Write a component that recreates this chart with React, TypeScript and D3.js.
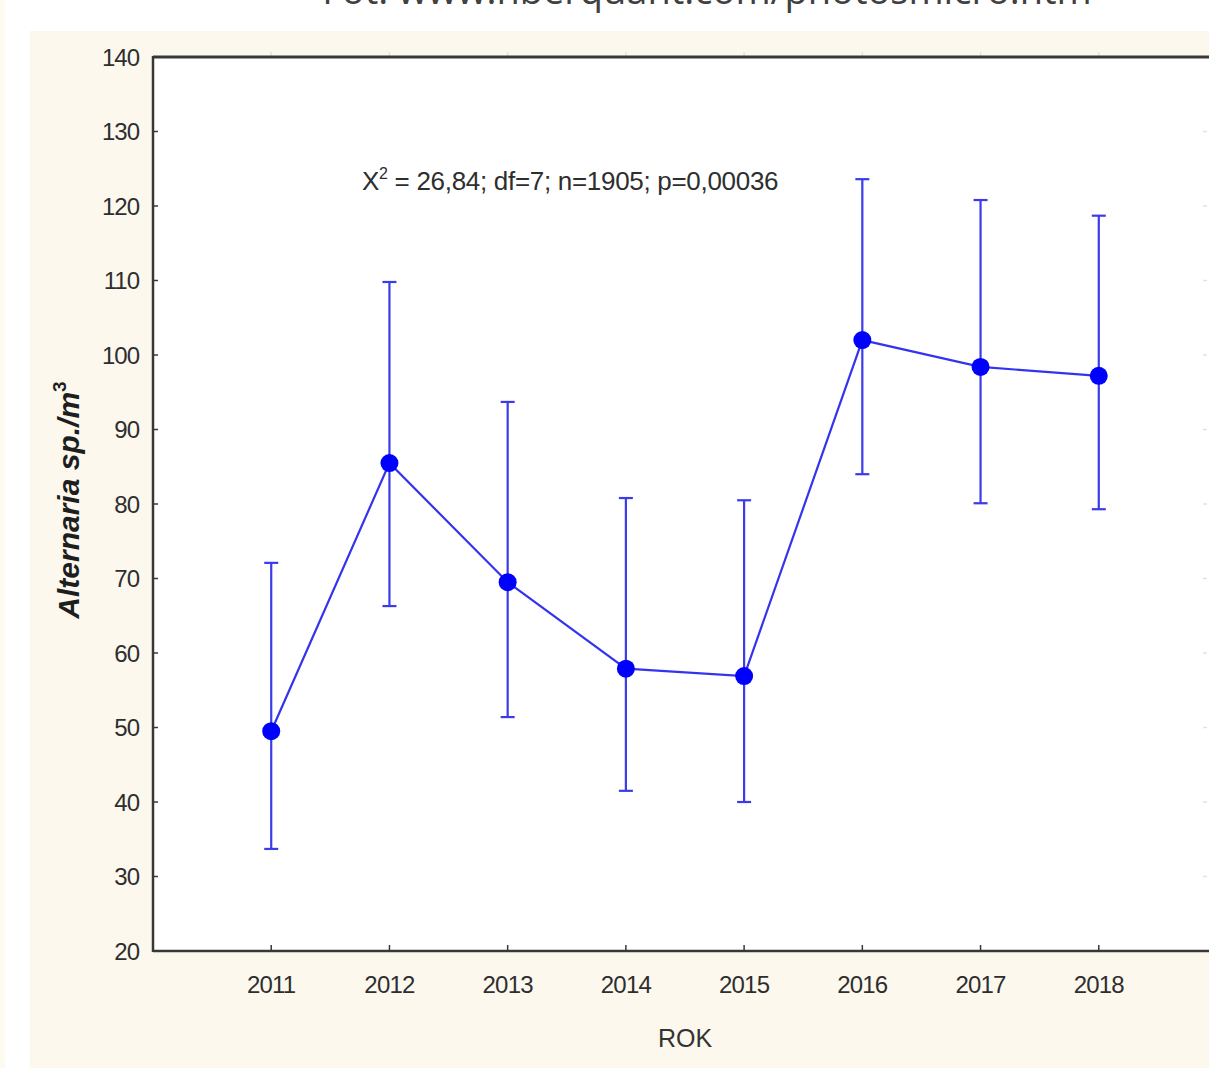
import { useEffect, useRef } from "react";
import * as d3 from "d3";

const years = [2011, 2012, 2013, 2014, 2015, 2016, 2017, 2018];
const means = [49.5, 85.5, 69.5, 57.9, 56.9, 102.0, 98.4, 97.2];
const upper = [72.1, 109.8, 93.7, 80.8, 80.5, 123.6, 120.8, 118.7];
const lower = [33.7, 66.3, 51.4, 41.5, 40.0, 84.0, 80.1, 79.3];
const yTicks = [20, 30, 40, 50, 60, 70, 80, 90, 100, 110, 120, 130, 140];

export default function App() {
  const ref = useRef<SVGSVGElement>(null);

  useEffect(() => {
    if (!ref.current) return;
    const W = 1209, H = 1070;
    const svg = d3.select(ref.current).attr("width", W).attr("height", H);
    svg.selectAll("*").remove();

    const font = "'Liberation Sans', Arial, sans-serif";
    const L = 153, T = 57, B = 951, R = 1217;

    // page + panel
    svg.append("rect").attr("width", W).attr("height", H).attr("fill", "#ffffff");
    svg.append("rect").attr("x", 0).attr("y", 0).attr("width", 5).attr("height", 1068).attr("fill", "#fdfaf0");
    svg.append("rect").attr("x", 30).attr("y", 31).attr("width", W - 30).attr("height", 1037).attr("fill", "#fcf8ee");

    // caption, cut at the top as in the source
    svg.append("text").attr("x", 707).attr("y", 4)
      .attr("text-anchor", "middle").attr("font-family", "'Open Sans', 'Noto Sans', sans-serif")
      .attr("font-size", 38).attr("fill", "#404040")
      .text("Fot: www.hberquant.com/photosmicro.htm");

    const x = d3.scaleLinear().domain([2010, 2019]).range([L, R]);
    const y = d3.scaleLinear().domain([20, 140]).range([B, T]);

    // plot area
    svg.append("rect").attr("x", L).attr("y", T).attr("width", R - L).attr("height", B - T).attr("fill", "#ffffff");

    // faint outer ticks (top and right)
    const faint = svg.append("g").attr("stroke", "#e4e2dc").attr("stroke-width", 1.5);
    years.forEach(v => {
      faint.append("line").attr("x1", x(v)).attr("x2", x(v)).attr("y1", T - 5).attr("y2", T);
    });
    yTicks.slice(1, -1).forEach(v => {
      faint.append("line").attr("x1", 1203).attr("x2", 1207).attr("y1", y(v)).attr("y2", y(v));
    });

    // frame
    const ax = svg.append("g").attr("stroke", "#383838").attr("fill", "none");
    ax.append("line").attr("x1", L).attr("x2", R).attr("y1", T).attr("y2", T).attr("stroke-width", 3);
    ax.append("line").attr("x1", L).attr("x2", R).attr("y1", B).attr("y2", B).attr("stroke-width", 2.5);
    ax.append("line").attr("x1", L).attr("x2", L).attr("y1", T - 1).attr("y2", B + 1).attr("stroke-width", 2.5);

    // y ticks + labels
    yTicks.forEach(v => {
      ax.append("line").attr("x1", L).attr("x2", L + 5).attr("y1", y(v)).attr("y2", y(v)).attr("stroke-width", 1.5);
      svg.append("text").attr("x", 139).attr("y", y(v)).attr("dy", "0.36em")
        .attr("text-anchor", "end").attr("font-family", font).attr("font-size", 24)
        .attr("fill", "#2e2e2e").attr("letter-spacing", -1).text(v);
    });

    // x ticks + labels
    years.forEach(v => {
      ax.append("line").attr("x1", x(v)).attr("x2", x(v)).attr("y1", B).attr("y2", B - 6).attr("stroke-width", 1.5);
      svg.append("text").attr("x", x(v)).attr("y", 993)
        .attr("text-anchor", "middle").attr("font-family", font).attr("font-size", 24)
        .attr("fill", "#2e2e2e").attr("letter-spacing", -0.8).text(v);
    });

    svg.append("text").attr("x", 685).attr("y", 1047)
      .attr("text-anchor", "middle").attr("font-family", font).attr("font-size", 25)
      .attr("fill", "#333").text("ROK");

    // y title
    const yt = svg.append("text")
      .attr("transform", "translate(79,500) rotate(-90)")
      .attr("text-anchor", "middle").attr("font-family", font).attr("font-size", 30)
      .attr("font-weight", "bold").attr("fill", "#1e1e1e");
    yt.append("tspan").attr("font-style", "italic").text("Alternaria");
    yt.append("tspan").attr("font-style", "italic").text(" sp./m");
    yt.append("tspan").attr("font-size", 19).attr("dy", -13).text("3");

    // annotation
    const an = svg.append("text").attr("x", 362).attr("y", 190)
      .attr("font-family", font).attr("font-size", 26).attr("fill", "#2e2e2e").attr("letter-spacing", -0.3);
    an.append("tspan").text("X");
    an.append("tspan").attr("font-size", 16).attr("dy", -11).text("2");
    an.append("tspan").attr("dy", 11).text(" = 26,84; df=7; n=1905; p=0,00036");

    // error bars
    const eb = svg.append("g").attr("stroke", "#3b3bea").attr("stroke-width", 2.2);
    years.forEach((v, i) => {
      eb.append("line").attr("x1", x(v)).attr("x2", x(v)).attr("y1", y(upper[i])).attr("y2", y(lower[i]));
      eb.append("line").attr("x1", x(v) - 7).attr("x2", x(v) + 7).attr("y1", y(upper[i])).attr("y2", y(upper[i]));
      eb.append("line").attr("x1", x(v) - 7).attr("x2", x(v) + 7).attr("y1", y(lower[i])).attr("y2", y(lower[i]));
    });

    // mean line
    const line = d3.line<number>().x((_, i) => x(years[i])).y(d => y(d));
    svg.append("path").datum(means).attr("d", line)
      .attr("fill", "none").attr("stroke", "#3434ee").attr("stroke-width", 2.2);

    svg.selectAll("circle.pt").data(means).enter().append("circle")
      .attr("class", "pt")
      .attr("cx", (_, i) => x(years[i])).attr("cy", d => y(d))
      .attr("r", 9).attr("fill", "#0000ff");
  }, []);

  return <svg ref={ref} style={{ position: "absolute", left: 0, top: 0 }} />;
}
